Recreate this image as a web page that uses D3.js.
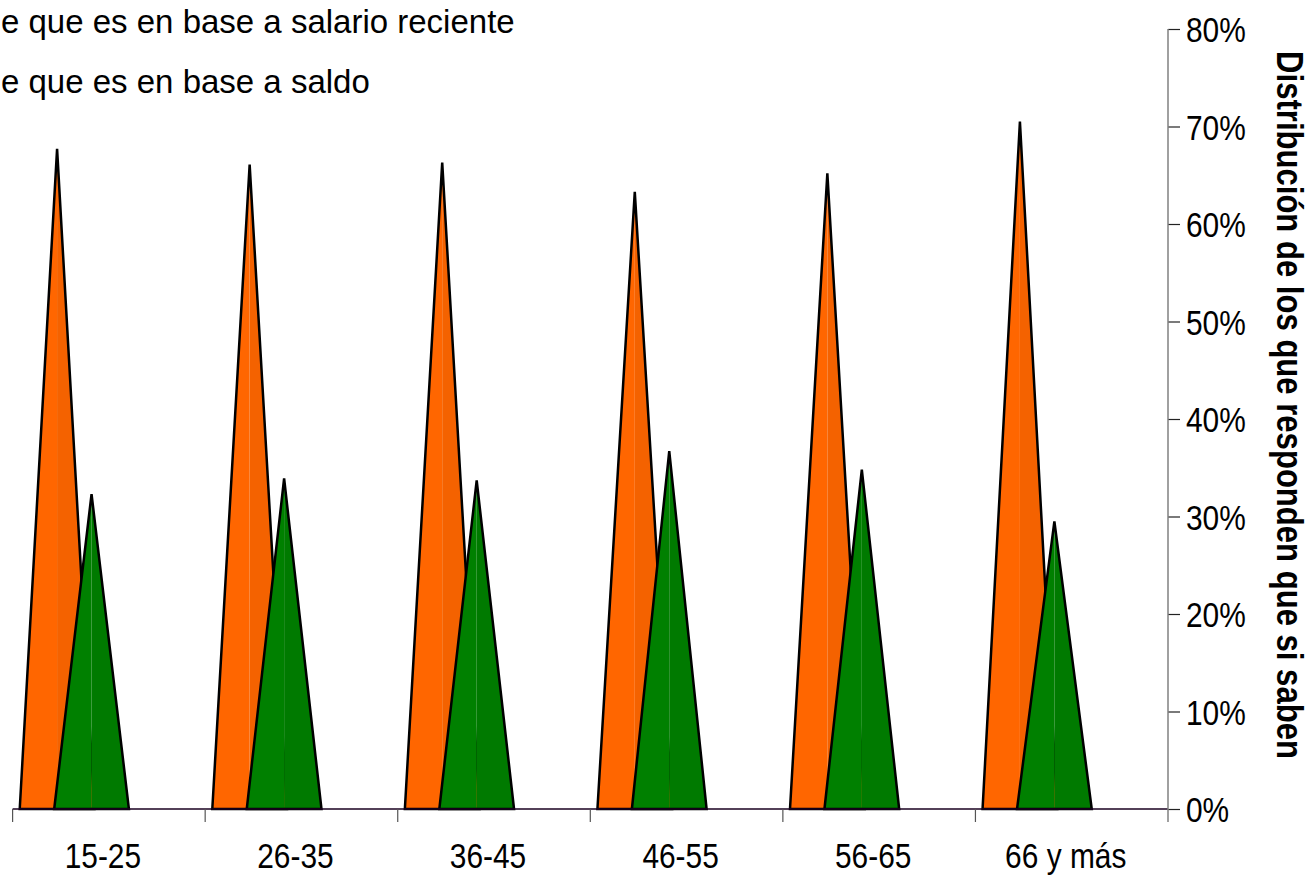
<!DOCTYPE html>
<html>
<head>
<meta charset="utf-8">
<script src="https://cdn.jsdelivr.net/npm/d3@7"></script>
<style>
  body { margin: 0; background: #fff; }
  svg { display: block; }
  .tick-label { font-family: "Liberation Sans", Arial, sans-serif; font-size: 36px; fill: #000; }
  .legend-label { font-family: "Liberation Sans", Arial, sans-serif; font-size: 33px; fill: #000; }
  .axis-title { font-family: "Liberation Sans", Arial, sans-serif; font-size: 37px; font-weight: bold; fill: #000; }
</style>
</head>
<body>
<div id="chart"></div>
<script>
  // data (share of respondents per age group):
  var categories = ["15-25", "26-35", "36-45", "46-55", "56-65", "66 y más"];
  var salario = [0.677, 0.661, 0.663, 0.633, 0.652, 0.705];
  var saldo = [0.323, 0.339, 0.337, 0.367, 0.348, 0.295];
  var legendLabels = ["e que es en base a salario reciente", "e que es en base a saldo"];
  var yTicks = [0, 0.1, 0.2, 0.3, 0.4, 0.5, 0.6, 0.7, 0.8];
  var yTitle = "Distribución de los que responden que si saben";

  var width = 1316, height = 875;
  var narrow = "scale(0.83,1)"; // the original uses a condensed face
  var svg = d3.select("#chart").append("svg")
    .attr("width", width)
    .attr("height", height);

  // plot area:
  var plotLeft = 12.6, plotRight = 1168, plotTop = 29, plotBottom = 809;

  var x = d3.scaleBand().domain(categories).range([plotLeft, plotRight]).padding(0);
  var y = d3.scaleLinear().domain([0, 0.8]).range([plotBottom, plotTop]);

  // position of each series inside a band (fraction of the band width)
  var series = [
    { values: salario, center: 0.231, light: "#ff6600", dark: "#f46200" },
    { values: saldo, center: 0.410, light: "#008000", dark: "#007a00" }
  ];
  var halfWidth = 0.194;

  // legend (cut off at the left edge, as in the original)
  svg.selectAll("text.legend-label")
    .data(legendLabels)
    .enter().append("text")
    .attr("class", "legend-label")
    .attr("x", 1)
    .attr("y", function (d, i) { return 33 + i * 60; })
    .text(function (d) { return d; });

  // pyramids:
  var marksG = svg.append("g");
  var bw = x.bandwidth();
  categories.forEach(function (cat, ci) {
    series.forEach(function (s) {
      var cx = x(cat) + s.center * bw;
      var hw = halfWidth * bw;
      var top = y(s.values[ci]);
      var g = marksG.append("g");
      g.append("path")
        .attr("d", "M" + (cx - hw) + "," + y(0) + "L" + cx + "," + top + "L" + cx + "," + y(0) + "Z")
        .attr("fill", s.light);
      g.append("path")
        .attr("d", "M" + cx + "," + y(0) + "L" + cx + "," + top + "L" + (cx + hw) + "," + y(0) + "Z")
        .attr("fill", s.dark);
      g.append("path")
        .attr("d", "M" + (cx - hw) + "," + y(0) + "L" + cx + "," + top + "L" + (cx + hw) + "," + y(0) + "Z")
        .attr("fill", "none")
        .attr("stroke", "#000")
        .attr("stroke-width", 2.5)
        .attr("stroke-linejoin", "miter");
    });
  });

  // x axis: baseline, category-edge ticks and labels
  var xAxisG = svg.append("g");
  xAxisG.append("line")
    .attr("x1", plotLeft).attr("x2", plotRight)
    .attr("y1", y(0)).attr("y2", y(0))
    .attr("stroke", "#1a0020").attr("stroke-width", 1.5);
  var edges = categories.map(function (c) { return x(c); });
  xAxisG.selectAll("line.xtick")
    .data(edges)
    .enter().append("line")
    .attr("class", "xtick")
    .attr("x1", function (d) { return d; }).attr("x2", function (d) { return d; })
    .attr("y1", y(0)).attr("y2", y(0) + 13)
    .attr("stroke", "#555").attr("stroke-width", 1.2);
  xAxisG.selectAll("text")
    .data(categories)
    .enter().append("text")
    .attr("class", "tick-label")
    .attr("text-anchor", "middle")
    .attr("transform", function (d) {
      return "translate(" + (x(d) + bw / 2 - 6) + ",868) " + narrow;
    })
    .text(function (d) { return d; });

  // y axis on the right:
  var yAxisG = svg.append("g")
    .attr("transform", "translate(" + plotRight + ",0)")
    .call(d3.axisRight(y).tickValues(yTicks).tickSize(12).tickPadding(5).tickFormat(d3.format(".0%")));
  yAxisG.select(".domain").remove();
  yAxisG.append("line")
    .attr("x1", 0).attr("x2", 0)
    .attr("y1", plotTop).attr("y2", y(0) + 13)
    .attr("stroke", "#808080").attr("stroke-width", 1.5);
  yAxisG.selectAll(".tick line").attr("stroke", "#222").attr("stroke-width", 1.2);
  yAxisG.selectAll(".tick text")
    .attr("class", "tick-label")
    .attr("font-size", null)
    .attr("font-family", null)
    .attr("fill", "#000")
    .attr("x", 0)
    .attr("dy", "0.36em")
    .attr("transform", "translate(18,0) " + narrow);

  // y axis title:
  svg.append("text")
    .attr("class", "axis-title")
    .attr("text-anchor", "middle")
    .attr("transform", "translate(1277,405) rotate(90) scale(0.84,1)")
    .text(yTitle);
</script>
</body>
</html>
